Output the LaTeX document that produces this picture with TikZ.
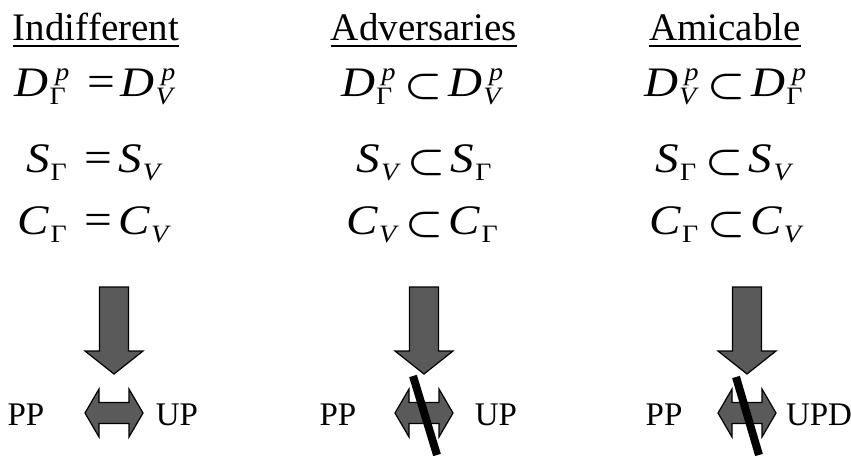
\RequirePackage{fix-cm}
\documentclass[tikz,border=0pt]{standalone}
\usepackage{graphicx}
\usepackage{fontspec}
\setmainfont{Liberation Serif}
\definecolor{arrowgray}{HTML}{5A5A5A}
\newsavebox\subbx
\newsavebox\supbx
\newcommand\ssb[3]{\textit{#1}%
 \sbox\subbx{\fontsize{25}{25}\selectfont\kern1pt #2}%
 \sbox\supbx{\fontsize{25}{25}\selectfont\itshape\kern6pt #3}%
 \ifdim\wd\subbx>\wd\supbx \dimen0=\wd\subbx \else \dimen0=\wd\supbx \fi
 \rlap{\raisebox{-8pt}{\usebox\subbx}}\rlap{\raisebox{16pt}{\usebox\supbx}}\kern\dimen0 }
\newcommand\sbs{\hspace{8pt}{\boldmath\fontsize{38}{38}\selectfont$\subset$}\hspace{5pt}}
\newcommand\eqs{\hspace{16pt}{\fontsize{44}{44}\selectfont =}\hspace{5pt}}
\newcommand\eqn[1]{\scalebox{1.12}[1]{#1}}
\begin{document}
\begin{tikzpicture}[x=1pt,y=-1pt,
  title/.style={font=\fontsize{39}{44}\selectfont, anchor=base, inner sep=0pt},
  eq/.style={font=\fontsize{42}{46}\selectfont, anchor=base, inner sep=0pt},
  lab/.style={font=\fontsize{33}{36}\selectfont, anchor=base, inner sep=0pt},
  uline/.style={line width=2.8pt},
  blk/.style={fill=arrowgray, draw=black, line width=1.2pt, line join=miter},
  slash/.style={line width=8pt, black}]
\useasboundingbox (0,0) rectangle (851,455);
% titles
\node[title] (t1) at (96,40) {Indifferent};
\node[title] (t2) at (424,40) {Adversaries};
\node[title] (t3) at (725,40) {Amicable};
\foreach \t in {t1,t2,t3}
  \draw[uline] ([yshift=-6pt]\t.base west) -- ([yshift=-6pt]\t.base east);
% Indifferent
\node[eq] (i1) at (95,96) {\eqn{\ssb{D}{Γ}{p}\eqs\ssb{D}{\itshape V}{p}}};
\node[eq] (i2) at (93,172) {\eqn{\ssb{S}{Γ}{}\eqs\ssb{S}{\itshape V}{}}};
\node[eq] (i3) at (93,234) {\eqn{\ssb{C}{Γ}{}\eqs\ssb{C}{\itshape V}{}}};
% Adversaries
\node[eq] (a1) at (422,96) {\eqn{\ssb{D}{Γ}{p}\sbs\ssb{D}{\itshape V}{p}}};
\node[eq] (a2) at (424,172) {\eqn{\ssb{S}{\itshape V}{}\sbs\ssb{S}{Γ}{}}};
\node[eq] (a3) at (422,234) {\eqn{\ssb{C}{\itshape V}{}\sbs\ssb{C}{Γ}{}}};
% Amicable
\node[eq] (m1) at (725,96) {\eqn{\ssb{D}{\itshape V}{p}\sbs\ssb{D}{Γ}{p}}};
\node[eq] (m2) at (723,172) {\eqn{\ssb{S}{Γ}{}\sbs\ssb{S}{\itshape V}{}}};
\node[eq] (m3) at (725,234) {\eqn{\ssb{C}{Γ}{}\sbs\ssb{C}{\itshape V}{}}};
% block arrows
\foreach \cx in {114,424,747}{
  \draw[blk, shift={(\cx,0)}] (-14.5,287) -- (14.5,287) -- (14.5,351) -- (29,351)
     -- (0,374) -- (-29,351) -- (-14.5,351) -- cycle;
  \draw[blk, shift={(\cx,413)}] (-29,0) -- (-15,-24) -- (-15,-10.5) -- (15,-10.5)
     -- (15,-24) -- (29,0) -- (15,24) -- (15,10.5) -- (-15,10.5) -- (-15,24) -- cycle;
}
% slashes
\draw[slash] (413,376) -- (437,455);
\draw[slash] (736,377) -- (759,455);
% labels
\node[lab] (p1) at (26,425) {PP};
\node[lab] (u1) at (177,425) {UP};
\node[lab] (p2) at (338,425) {PP};
\node[lab] (u2) at (496,425) {UP};
\node[lab] (p3) at (664,425) {PP};
\node[lab] (u3) at (819,425) {UPD};
\end{tikzpicture}
\end{document}
